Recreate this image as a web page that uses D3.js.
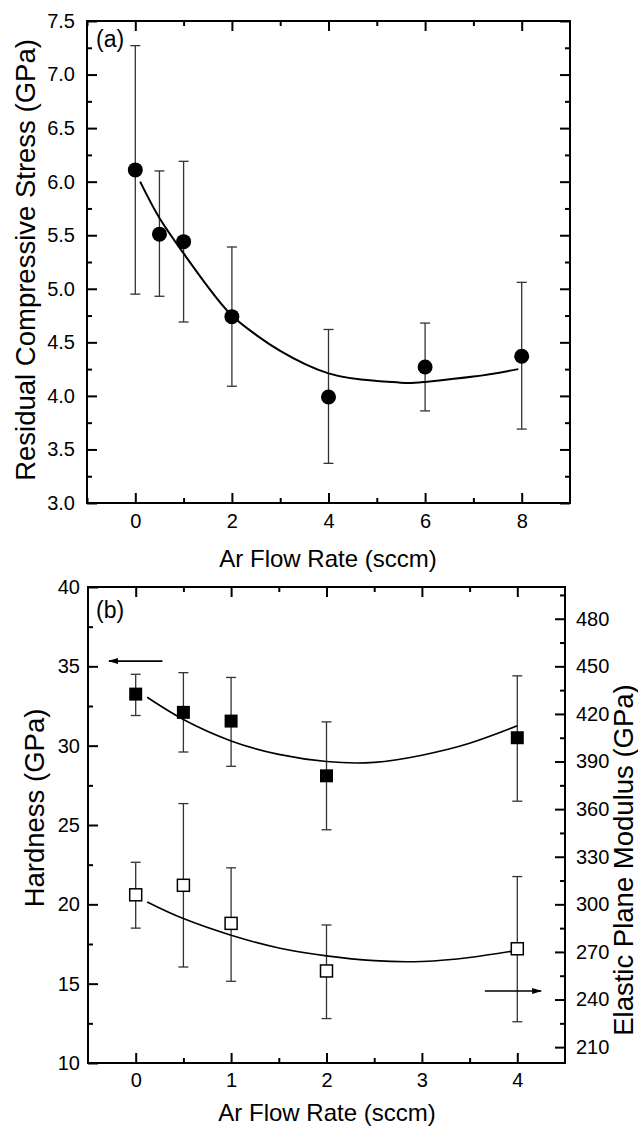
<!DOCTYPE html>
<html>
<head>
<meta charset="utf-8">
<script src="https://cdn.jsdelivr.net/npm/d3@7"></script>
<style>
  body { margin: 0; background: #fff; }
  svg { display: block; }
  text { font-family: "Liberation Sans", Arial, sans-serif; fill: #000; }
</style>
</head>
<body>
<div id="chart"></div>
<script>
// (a) residual stress vs Ar flow
var flowA = [0, 0.5, 1, 2, 4, 6, 8];
var stress = [6.11, 5.51, 5.44, 4.74, 3.99, 4.27, 4.37];
var stressHi = [7.27, 6.10, 6.19, 5.39, 4.62, 4.68, 5.06];
var stressLo = [4.95, 4.93, 4.69, 4.09, 3.37, 3.86, 3.69];
// fitted line
var fitAx = [0.1, 0.5, 1, 1.5, 2, 2.5, 3, 4, 5, 5.6, 6, 7, 7.93];
var fitAy = [6.00, 5.66, 5.33, 5.02, 4.75, 4.57, 4.42, 4.21, 4.14, 4.12, 4.13, 4.18, 4.25];

// (b) hardness (left) and elastic plane modulus (right)
var flowB = [0, 0.5, 1, 2, 4];
var hard = [33.25, 32.1, 31.55, 28.1, 30.5];
var hardHi = [34.5, 34.6, 34.3, 31.5, 34.4];
var hardLo = [31.9, 29.6, 28.7, 24.7, 26.5];
var modulus = [306, 312, 288, 258, 272];
var modHi = [326.5, 363.5, 323, 287, 317.5];
var modLo = [285, 260.5, 251.5, 228, 226];
var fitHx = [0.12, 0.5, 1, 1.5, 2, 2.5, 3, 3.5, 4];
var fitHy = [33.05, 31.65, 30.3, 29.45, 29.0, 28.95, 29.4, 30.15, 31.25];
var fitEx = [0.12, 0.5, 1, 1.5, 2, 2.5, 3, 3.5, 4];
var fitEy = [301.5, 291, 280.5, 272.5, 267.5, 264.5, 264, 266.5, 271];

var ticksA_x = [0, 2, 4, 6, 8];
var ticksA_y = [3.0, 3.5, 4.0, 4.5, 5.0, 5.5, 6.0, 6.5, 7.0, 7.5];
var ticksB_x = [0, 1, 2, 3, 4];
var ticksB_y = [10, 15, 20, 25, 30, 35, 40];
var ticksB_e = [210, 240, 270, 300, 330, 360, 390, 420, 450, 480];

var W = 638, H = 1128;
var svg = d3.select("#chart").append("svg").attr("width", W).attr("height", H);

var xA = d3.scaleLinear().domain([-1, 9]).range([87, 570]);
var yA = d3.scaleLinear().domain([3, 7.5]).range([503, 21]);
var xB = d3.scaleLinear().domain([-0.5, 4.5]).range([88, 565]);
var yB = d3.scaleLinear().domain([10, 40]).range([1063, 587]);
var yE = d3.scaleLinear().domain([200, 500]).range([1063, 587]);

function minors(major, step) {
  var out = [];
  major.forEach(function(v){ out.push(v + step) });
  return out;
}

// draws one axis with inward major + minor ticks
function drawAxis(axisFn, scale, tr, major, minor, fmt, pad, fs) {
  var gMin = svg.append("g").attr("transform", tr)
    .call(axisFn(scale).tickValues(minor).tickSize(-5).tickFormat(""));
  var gMaj = svg.append("g").attr("transform", tr)
    .call(axisFn(scale).tickValues(major).tickSize(-10).tickPadding(pad)
      .tickFormat(fmt || ""));
  [gMin, gMaj].forEach(function(g){
    g.select(".domain").remove();
    g.selectAll("line").attr("stroke", "#000").attr("stroke-width", 2);
    g.selectAll("text").style("font-size", fs + "px")
      .style("font-family", "'Liberation Sans', Arial, sans-serif");
  });
}

// ---------- panel (a) ----------
var minAx = [-1, 1, 3, 5, 7];
var minAy = minors(ticksA_y.slice(0, -1), 0.25);
drawAxis(d3.axisBottom, xA, "translate(0,503)", ticksA_x, minAx, d3.format("d"), 11, 20);
drawAxis(d3.axisTop, xA, "translate(0,21)", ticksA_x, minAx, null, 0, 20);
drawAxis(d3.axisLeft, yA, "translate(87,0)", ticksA_y, minAy, d3.format(".1f"), 12, 20);
drawAxis(d3.axisRight, yA, "translate(570,0)", ticksA_y, minAy, null, 0, 20);

svg.append("rect").attr("x", 87).attr("y", 21).attr("width", 570 - 87).attr("height", 503 - 21)
  .attr("fill", "none").attr("stroke", "#000").attr("stroke-width", 2);

var gA = svg.append("g");
flowA.forEach(function(f, i){
  var x = xA(f);
  gA.append("line").attr("x1", x).attr("x2", x).attr("y1", yA(stressHi[i])).attr("y2", yA(stressLo[i]))
    .attr("stroke", "#333").attr("stroke-width", 1.3);
  [stressHi[i], stressLo[i]].forEach(function(v){
    gA.append("line").attr("x1", x - 5).attr("x2", x + 5).attr("y1", yA(v)).attr("y2", yA(v))
      .attr("stroke", "#333").attr("stroke-width", 1.3);
  });
});

var lineA = d3.line().x(function(d){ return xA(d[0]) }).y(function(d){ return yA(d[1]) })
  .curve(d3.curveNatural);
gA.append("path").attr("d", lineA(d3.zip(fitAx, fitAy)))
  .attr("fill", "none").attr("stroke", "#000").attr("stroke-width", 2);

gA.selectAll("circle").data(d3.zip(flowA, stress)).enter().append("circle")
  .attr("cx", function(d){ return xA(d[0]) }).attr("cy", function(d){ return yA(d[1]) })
  .attr("r", 7.5).attr("fill", "#000");

svg.append("text").attr("x", 96).attr("y", 47).style("font-size", "23px").text("(a)");
svg.append("text").attr("x", 328).attr("y", 567).attr("text-anchor", "middle")
  .style("font-size", "24px").text("Ar Flow Rate (sccm)");
svg.append("text").attr("transform", "translate(35,260) rotate(-90)").attr("text-anchor", "middle")
  .style("font-size", "27.5px").text("Residual Compressive Stress (GPa)");

// ---------- panel (b) ----------
var minBx = [0.5, 1.5, 2.5, 3.5];
var minBy = minors(ticksB_y.slice(0, -1), 2.5);
var minBe = [225, 255, 285, 315, 345, 375, 405, 435, 465, 495];
drawAxis(d3.axisBottom, xB, "translate(0,1063)", ticksB_x, minBx, d3.format("d"), 10, 20);
drawAxis(d3.axisTop, xB, "translate(0,587)", ticksB_x, minBx, null, 0, 20);
drawAxis(d3.axisLeft, yB, "translate(88,0)", ticksB_y, minBy, d3.format("d"), 8, 20);
drawAxis(d3.axisRight, yE, "translate(565,0)", ticksB_e, minBe, d3.format("d"), 11, 20);

svg.append("rect").attr("x", 88).attr("y", 587).attr("width", 565 - 88).attr("height", 1063 - 587)
  .attr("fill", "none").attr("stroke", "#000").attr("stroke-width", 2);

var gB = svg.append("g");
function errBars(ys, hi, lo) {
  flowB.forEach(function(f, i){
    var x = xB(f);
    gB.append("line").attr("x1", x).attr("x2", x).attr("y1", ys(hi[i])).attr("y2", ys(lo[i]))
      .attr("stroke", "#333").attr("stroke-width", 1.3);
    [hi[i], lo[i]].forEach(function(v){
      gB.append("line").attr("x1", x - 5).attr("x2", x + 5).attr("y1", ys(v)).attr("y2", ys(v))
        .attr("stroke", "#333").attr("stroke-width", 1.3);
    });
  });
}
errBars(yB, hardHi, hardLo);
errBars(yE, modHi, modLo);

var lineH = d3.line().x(function(d){ return xB(d[0]) }).y(function(d){ return yB(d[1]) })
  .curve(d3.curveNatural);
var lineE = d3.line().x(function(d){ return xB(d[0]) }).y(function(d){ return yE(d[1]) })
  .curve(d3.curveNatural);
gB.append("path").attr("d", lineH(d3.zip(fitHx, fitHy)))
  .attr("fill", "none").attr("stroke", "#000").attr("stroke-width", 1.6);
gB.append("path").attr("d", lineE(d3.zip(fitEx, fitEy)))
  .attr("fill", "none").attr("stroke", "#000").attr("stroke-width", 1.6);

var sq = 13;
gB.selectAll("rect.hard").data(d3.zip(flowB, hard)).enter().append("rect")
  .attr("class", "hard")
  .attr("x", function(d){ return xB(d[0]) - sq / 2 }).attr("y", function(d){ return yB(d[1]) - sq / 2 })
  .attr("width", sq).attr("height", sq).attr("fill", "#000");
var sq2 = 12;
gB.selectAll("rect.mod").data(d3.zip(flowB, modulus)).enter().append("rect")
  .attr("class", "mod")
  .attr("x", function(d){ return xB(d[0]) - sq2 / 2 }).attr("y", function(d){ return yE(d[1]) - sq2 / 2 })
  .attr("width", sq2).attr("height", sq2).attr("fill", "#fff").attr("stroke", "#000").attr("stroke-width", 1.5);

// arrows showing which axis each series uses
var defs = svg.append("defs");
defs.append("marker").attr("id", "head").attr("viewBox", "0 0 10 10").attr("refX", 9).attr("refY", 5)
  .attr("markerWidth", 10).attr("markerHeight", 10).attr("markerUnits", "userSpaceOnUse")
  .attr("orient", "auto")
  .append("path").attr("d", "M0,2 L10,5 L0,8 Z").attr("fill", "#000");
gB.append("line").attr("x1", xB(0.28)).attr("x2", xB(-0.28)).attr("y1", yB(35.33)).attr("y2", yB(35.33))
  .attr("stroke", "#000").attr("stroke-width", 1.6).attr("marker-end", "url(#head)");
gB.append("line").attr("x1", xB(3.66)).attr("x2", xB(4.25)).attr("y1", yE(245.4)).attr("y2", yE(245.4))
  .attr("stroke", "#000").attr("stroke-width", 1.6).attr("marker-end", "url(#head)");

svg.append("text").attr("x", 96).attr("y", 618).style("font-size", "23px").text("(b)");
svg.append("text").attr("x", 327).attr("y", 1121).attr("text-anchor", "middle")
  .style("font-size", "24px").text("Ar Flow Rate (sccm)");
svg.append("text").attr("transform", "translate(44,808) rotate(-90)").attr("text-anchor", "middle")
  .style("font-size", "27.5px").text("Hardness (GPa)");
svg.append("text").attr("transform", "translate(633,860) rotate(-90)").attr("text-anchor", "middle")
  .style("font-size", "27.5px").text("Elastic Plane Modulus (GPa)");
</script>
</body>
</html>
